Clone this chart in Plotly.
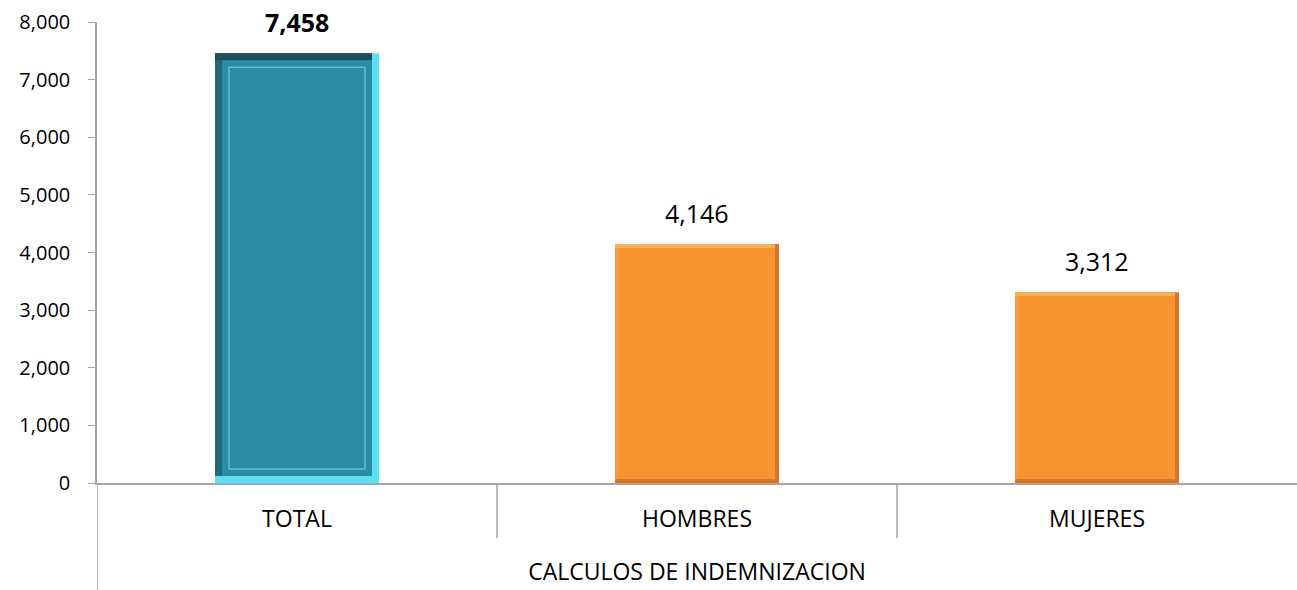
import plotly.graph_objects as go

categories = ["TOTAL", "HOMBRES", "MUJERES"]
values = [7458, 4146, 3312]
value_labels = ["7,458", "4,146", "3,312"]
bold_flags = [True, False, False]
y_ticks = [0, 1000, 2000, 3000, 4000, 5000, 6000, 7000, 8000]
y_tick_text = ["0", "1,000", "2,000", "3,000", "4,000", "5,000", "6,000", "7,000", "8,000"]
axis_title = "CALCULOS DE INDEMNIZACION"

# bevel colours per bar: outer (right/bottom), left, top, face
outer_colors = ["#5BE0F4", "#D47529", "#D47529"]
left_colors = ["#22697C", "#F69A3C", "#F69A3C"]
top_colors = ["#1A4F5E", "#FBB150", "#FBB150"]
face_colors = ["#2A8DA8", "#F8942F", "#F8942F"]
bevel_px = [7, 4, 4]

BAR_W = 0.41
FONT = "Open Sans, Lato, sans-serif"
PX_X = 1 / 400.0        # category units per pixel
PX_Y = 8000 / 461.0     # value units per pixel

fig = go.Figure()
dx = [b * PX_X for b in bevel_px]
dy = [b * PX_Y for b in bevel_px]
half = BAR_W / 2

def add(y, base, width, offset, colors):
    fig.add_trace(go.Bar(
        x=categories, y=y, base=base, width=width, offset=offset,
        marker=dict(color=colors, line=dict(width=0)),
        hoverinfo="skip", showlegend=False,
    ))

# outer (right & bottom edge)
add(values, [0] * 3, [BAR_W] * 3, [-half] * 3, outer_colors)
# left edge region
add([v - d for v, d in zip(values, dy)], dy, [BAR_W - d for d in dx], [-half] * 3, left_colors)
# top edge
add(dy, [v - d for v, d in zip(values, dy)], [BAR_W - d for d in dx], [-half] * 3, top_colors)
# face
add([v - 2 * d for v, d in zip(values, dy)], dy, [BAR_W - 2 * d for d in dx],
    [-half + d for d in dx], face_colors)
# inner bevel rectangle for the TOTAL bar
fig.add_trace(go.Bar(
    x=[categories[0]], y=[values[0] - 4 * dy[0]], base=[2 * dy[0]],
    width=BAR_W - 4 * dx[0], offset=-half + 2 * dx[0],
    marker=dict(color="rgba(0,0,0,0)", line=dict(color="#5FC0D6", width=1.5)),
    hoverinfo="skip", showlegend=False,
))

for c, v, t, b in zip(categories, values, value_labels, bold_flags):
    fig.add_annotation(
        x=c, y=v, text=f"<b>{t}</b>" if b else t, showarrow=False,
        yanchor="bottom", yshift=12,
        font=dict(family=FONT, size=25, color="#000"),
    )

# category divider lines of the axis
for xb in [0.5, 1.5]:
    fig.add_shape(type="line", xref="x", yref="paper", x0=xb, x1=xb, y0=0, y1=-0.12,
                  line=dict(color="#A6A6A6", width=1.5))
fig.add_shape(type="line", xref="x", yref="paper", x0=-0.5, x1=-0.5, y0=0, y1=-0.25,
              line=dict(color="#A6A6A6", width=1.5))

fig.update_layout(
    width=1297, height=590,
    margin=dict(l=97, r=0, t=22, b=107),
    paper_bgcolor="white", plot_bgcolor="white",
    barmode="overlay",
    font=dict(family=FONT, size=20, color="#000"),
    xaxis=dict(
        type="category", range=[-0.5, 2.5],
        showline=True, linecolor="#A6A6A6", linewidth=1.5,
        ticks="", ticklabelstandoff=15,
        tickfont=dict(family=FONT, size=23),
        title=dict(text=axis_title, standoff=31, font=dict(family=FONT, size=23)),
        showgrid=False, automargin=False,
    ),
    yaxis=dict(
        range=[0, 8000], tickvals=y_ticks, ticktext=y_tick_text,
        showline=True, linecolor="#A6A6A6", linewidth=1.5,
        ticks="outside", ticklen=7, tickcolor="#A6A6A6",
        ticklabelstandoff=14,
        tickfont=dict(family=FONT, size=20),
        showgrid=False, zeroline=False, automargin=False,
    ),
)

fig.write_html("out.html", config={"displayModeBar": False},
               post_script="document.body.style.margin='0';")
